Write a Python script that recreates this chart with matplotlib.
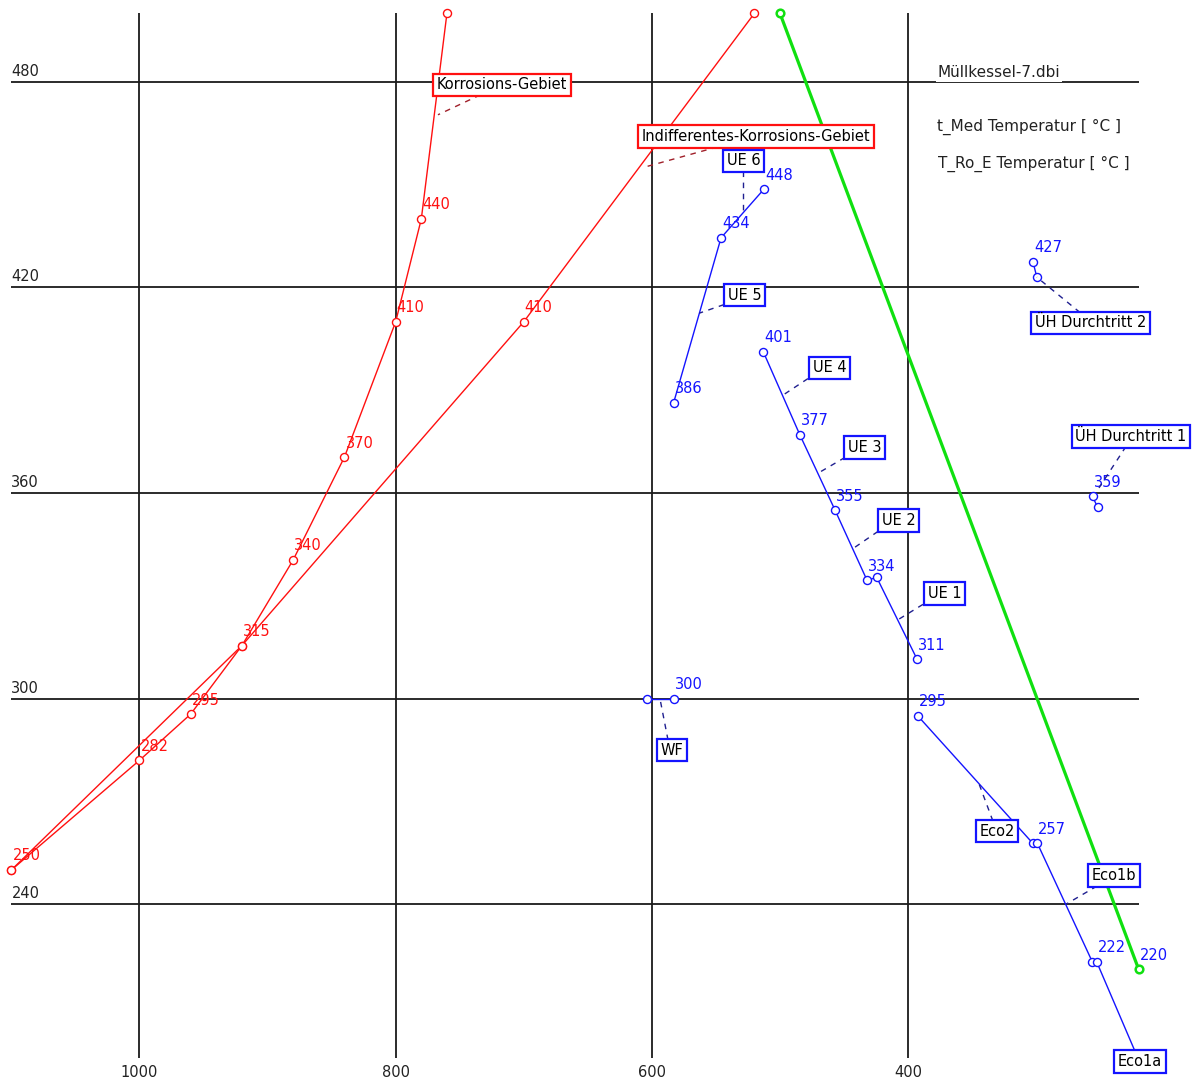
import matplotlib
matplotlib.use('Agg')
import matplotlib.pyplot as plt

# axes
x_ticks = [1000, 800, 600, 400]
y_ticks = [480, 420, 360, 300, 240]

# red: Korrosions-Gebiet curve
red_a_x = [1100, 1000, 960, 920, 880, 840, 800, 780, 760]
red_a_y = [250, 282, 295.5, 315.5, 340.5, 370.5, 410, 440, 500]
red_a_lab = ['250', '282', '295', '315', '340', '370', '410', '440', '']

# red: indifferentes Korrosions-Gebiet curve
red_b_x = [1100, 920, 700, 520]
red_b_y = [250, 315.5, 410, 500]
red_b_lab = ['', '', '410', '']

# blue series
ue56_x = [583, 546, 512.5]
ue56_y = [386.4, 434.5, 448.7]
ue56_lab = ['386', '434', '448']

ue14_x = [513, 484.5, 457, 432, 424.5, 393]
ue14_y = [401.2, 377, 355, 334.5, 335.4, 311.5]
ue14_lab = ['401', '377', '355', '334', '', '311']

uh2_x = [302.5, 299.5]
uh2_y = [427.5, 423]
uh2_lab = ['427', '']

uh1_x = [256, 252]
uh1_y = [359, 355.8]
uh1_lab = ['359', '']

wf_x = [604, 583]
wf_y = [300, 300]
wf_lab = ['', '300']

eco_x = [392.5, 302.7, 299.1, 256.2, 252.8, 223]
eco_y = [295, 257.8, 257.8, 223.2, 223.2, 197.2]
eco_lab = ['295', '', '257', '', '222', '']

# green: T_Ro_E
green_x = [500, 220]
green_y = [500, 221]
green_lab = ['', '220']

# boxed annotations: text, box centre, leader start (box edge), leader end (on line)
red_notes = [
    ('Korrosions-Gebiet', (717, 479.1), (734, 476.2), (767, 470.4)),
    ('Indifferentes-Korrosions-Gebiet', (519, 464.1), (549, 461), (605, 455.2)),
]
blue_notes = [
    ('UE 6', (528.5, 457), (529, 454.1), (529, 441.9)),
    ('UE 5', (527.7, 417.8), (543.7, 415), (563, 412.5)),
    ('UE 4', (461.4, 396.5), (478.2, 393.4), (498, 388.5)),
    ('UE 3', (434, 373.3), (449.2, 370.4), (470.3, 365.8)),
    ('UE 2', (407.5, 352), (423.5, 348.8), (443, 343.8)),
    ('UE 1', (371.6, 330.7), (388.4, 327.5), (408, 323)),
    ('ÜH Durchtritt 2', (257.6, 409.7), (265.8, 412.7), (299.5, 423)),
    ('ÜH Durchtritt 1', (226, 376.5), (229.9, 373.6), (251, 361.5)),
    ('WF', (584.3, 285), (587.4, 287.9), (593.7, 300)),
    ('Eco2', (330.6, 261.3), (333.8, 264.3), (345.5, 276)),
    ('Eco1b', (239.3, 248.4), (252.5, 245.3), (276.7, 240)),
    ('Eco1a', (219, 194.1), None, None),
]

RED = '#ff1010'
BLUE = '#1414ff'
GREEN = '#10e010'

fig = plt.figure(figsize=(11.94, 10.81), dpi=100)
ax = fig.add_axes([0, 0, 1, 1])
ax.set_xlim(1108.9, 176.8)
ax.set_ylim(188.4, 503.9)
ax.axis('off')

# grid
ax.hlines(y_ticks, 1100, 220, color='#1a1a1a', lw=1.3, zorder=1)
ax.vlines(x_ticks, 195, 500, color='#1a1a1a', lw=1.3, zorder=1)
for yt in y_ticks:
    ax.annotate(str(yt), (1100, yt), xytext=(0, 3), textcoords='offset pixels',
                ha='left', va='bottom', fontsize=10.5, color='#222222')
for xt in x_ticks:
    ax.annotate(str(xt), (xt, 195), xytext=(0, -14), textcoords='offset pixels',
                ha='center', va='center', fontsize=10.5, color='#222222')


def series(xs, ys, labs, color, marks=None):
    ax.plot(xs, ys, color=color, lw=1, zorder=2)
    n = len(xs) if marks is None else marks
    ax.plot(xs[:n], ys[:n], ls='none', marker='o', ms=5.8, mfc='white',
            mec=color, mew=1, zorder=3)
    for x, y, s in zip(xs, ys, labs):
        if s:
            ax.annotate(s, (x, y), xytext=(1, 14), textcoords='offset pixels',
                        ha='left', va='center', fontsize=10.5, color=color,
                        zorder=4)


series(red_a_x, red_a_y, red_a_lab, RED)
series(red_b_x, red_b_y, red_b_lab, RED)
series(ue56_x, ue56_y, ue56_lab, BLUE)
series(ue14_x, ue14_y, ue14_lab, BLUE)
series(uh2_x, uh2_y, uh2_lab, BLUE)
series(uh1_x, uh1_y, uh1_lab, BLUE)
series(wf_x, wf_y, wf_lab, BLUE)
series(eco_x, eco_y, eco_lab, BLUE, marks=len(eco_x) - 1)

ax.plot(green_x, green_y, color=GREEN, lw=2.3, zorder=2)
ax.plot(green_x, green_y, ls='none', marker='o', ms=5.5, mfc='white',
        mec=GREEN, mew=1.8, zorder=3)
ax.annotate(green_lab[1], (green_x[1], green_y[1]), xytext=(1, 14),
            textcoords='offset pixels', ha='left', va='center',
            fontsize=10.5, color=BLUE, zorder=4)


def notes(items, edge, lead):
    for txt, c, a, p in items:
        if a is not None:
            ax.plot([a[0], p[0]], [a[1], p[1]], color=lead, lw=1,
                    ls=(0, (4, 4)), zorder=4)
        ax.text(c[0], c[1], txt, ha='center', va='center', fontsize=10.5,
                color='black', zorder=6,
                bbox=dict(boxstyle='square,pad=0.25', fc='white', ec=edge, lw=1.6))


notes(red_notes, RED, '#a0202a')
notes(blue_notes, BLUE, '#202090')

# header texts
ax.text(376.7, 482.6, 'Müllkessel-7.dbi', ha='left', va='center', fontsize=11,
        color='#222222', zorder=6,
        bbox=dict(boxstyle='square,pad=0.1', fc='white', ec='none'))
ax.text(377.4, 466.9, 't_Med Temperatur [ °C ]', ha='left', va='center',
        fontsize=11, color='#222222')
ax.text(376.7, 456.1, 'T_Ro_E Temperatur [ °C ]', ha='left', va='center',
        fontsize=11, color='#222222')

plt.savefig('out.png', dpi=100)
